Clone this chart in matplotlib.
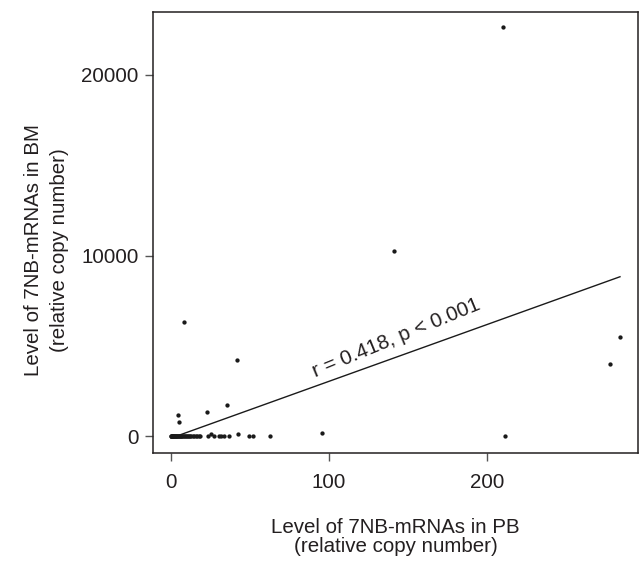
import matplotlib
matplotlib.use("Agg")
import matplotlib.pyplot as plt

plt.rcParams['font.family'] = ['Liberation Sans', 'DejaVu Sans']

# PB (x) and BM (y) relative copy numbers
pb_values = [
    0.0, 0.2, 0.4, 0.6, 0.8, 1.0, 1.2, 1.5, 1.8, 2.0, 2.3, 2.6, 3.0, 3.3, 3.6,
    4.0, 4.4, 4.8, 5.2, 5.6, 6.0, 6.5, 7.0, 7.5, 8.0, 8.6, 9.2, 9.8, 10.5,
    11.2, 12.0, 12.8, 13.6, 14.5, 15.5, 16.5, 17.5, 18.5,
    23.6, 25.5, 27.4, 30.6, 31.6, 33.7, 36.7, 42.2, 49.1, 51.7, 62.6,
    95.7, 211.3,
    4.4, 5.3, 22.6, 35.6, 42.0, 8.0, 141.3, 210.0, 283.8, 277.7,
]
bm_values = [
    0, 5, 10, 0, 20, 0, 15, 0, 30, 0, 10, 0, 25, 0, 5,
    0, 40, 0, 10, 0, 20, 0, 5, 0, 30, 0, 10, 0, 15,
    0, 5, 0, 20, 0, 10, 0, 5, 0,
    0, 144, 0, 0, 0, 0, 0, 142, 0, 0, 0,
    183, 0,
    1195, 775, 1328, 1749, 4222, 6309, 10238, 22634, 5512, 4018,
]

# regression line end points (as drawn)
fit_x = [0.0, 284.0]
fit_y = [-100.0, 8830.0]

annotation = "r = 0.418, p < 0.001"
x_ticks = [0, 100, 200]
y_ticks = [0, 10000, 20000]
x_label = "Level of 7NB-mRNAs in PB\n(relative copy number)"
y_label = "Level of 7NB-mRNAs in BM\n(relative copy number)"

text_color = "#231f20"
fs = 14.8

fig = plt.figure(figsize=(6.4, 5.62), dpi=100)
ax = fig.add_axes([0.2396, 0.1945, 0.7568, 0.7841])

ax.plot(pb_values, bm_values, linestyle='none', marker='o', markersize=3.1,
        color='#1a1a1a', markeredgewidth=0)
ax.plot(fit_x, fit_y, color='#1a1a1a', linewidth=1.0)

ax.text(142.8, 5423, annotation, rotation=22.4, ha='center', va='center',
        fontsize=fs, color=text_color, rotation_mode='anchor')

ax.set_xlim(-11.2, 295.2)
ax.set_ylim(-908, 23481)
ax.set_xticks(x_ticks)
ax.set_yticks(y_ticks)
ax.tick_params(axis='both', direction='out', length=5.5, width=1.0,
               color='#555555', labelsize=fs, labelcolor=text_color)
ax.tick_params(axis='x', pad=9)
ax.tick_params(axis='y', pad=5)

for sp in ax.spines.values():
    sp.set_linewidth(1.1)
    sp.set_color('#231f20')

ax.set_xlabel(x_label, fontsize=fs, color=text_color, labelpad=18.5,
              linespacing=1.02)
ax.set_ylabel(y_label, fontsize=fs, color=text_color, labelpad=9,
              linespacing=1.45)
ax.yaxis.label.set_y(0.46)

fig.savefig("out.png", dpi=100)
